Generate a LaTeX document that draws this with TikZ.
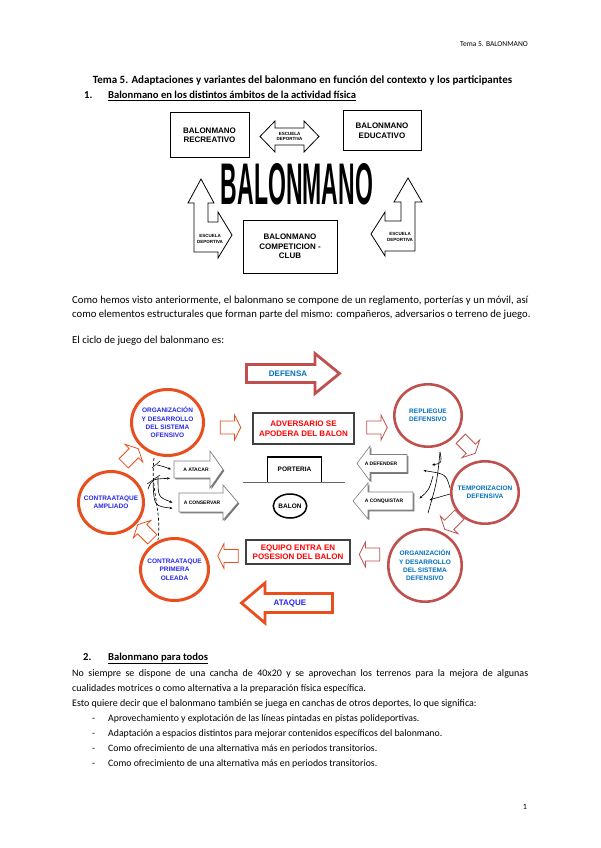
\documentclass[tikz,border=0pt]{standalone}
\usepackage{fontspec}
\usepackage{graphicx}
\setmainfont{Carlito}
\newfontfamily\arial{Liberation Sans}
\usetikzlibrary{arrows.meta,shapes.geometric}
\definecolor{ofred}{RGB}{232,78,30}
\definecolor{defred}{RGB}{192,80,77}
\definecolor{ofblue}{RGB}{40,40,235}
\definecolor{defblue}{RGB}{0,112,192}
\tikzset{
  body/.style={anchor=base west, inner sep=0pt, font=\fontsize{10.7}{13}\selectfont},
  bodys/.style={anchor=base west, inner sep=0pt, font=\fontsize{10}{12}\selectfont},
  bodyt/.style={anchor=base west, inner sep=0pt, font=\fontsize{9.8}{12}\selectfont},
  bodyb/.style={anchor=base west, inner sep=0pt, font=\bfseries\fontsize{10.6}{13}\selectfont},
  lbl/.style={font=\arial\bfseries\fontsize{8}{9.5}\selectfont, align=center, inner sep=0pt},
  esc/.style={font=\arial\bfseries\fontsize{4.5}{5.5}\selectfont, align=center, inner sep=0pt},
  ctxt/.style={font=\arial\bfseries\fontsize{6.5}{8.3}\selectfont, align=center, inner sep=0pt},
  gtxt/.style={font=\arial\bfseries\fontsize{5}{6}\selectfont, inner sep=0pt},
  boxone/.style={draw, line width=1pt, lbl},
  ofcirc/.style={ellipse, draw=ofred, line width=3pt, inner sep=0pt},
  defcirc/.style={ellipse, draw=defred, line width=2.6pt, inner sep=0pt},
  cbox/.style={draw=black!75, line width=1.1pt, lbl, text=red},
  blockarr/.style={draw, line width=0.8pt, fill=white},
  curv/.style={line width=0.6pt, -{Stealth[length=3pt,width=2.5pt]}},
}
\newcommand\smallarr[4]{%
  \begin{scope}[shift={(#1,#2)}, rotate=#3]
    \draw[#4, line width=0.8pt, fill=white] (-10.3,-6.5) -- (4,-6.5) -- (4,-12.5) -- (10.3,0) -- (4,12.5) -- (4,6.5) -- (-10.3,6.5) -- cycle;
  \end{scope}}
\newcommand\grayarr[1]{%
  \fill[black!55, shift={(1.3,1.3)}] #1;
  \draw[black!50, line width=0.6pt, fill=white] #1;}
\begin{document}
\begin{tikzpicture}[x=1pt,y=-1pt]
\useasboundingbox[fill=white] (0,0) rectangle (600,848);

% header
\node[font=\fontsize{7.5}{9}\selectfont, anchor=base east, inner sep=0pt] (hdr) at (528,46.5) {Tema 5. BALONMANO};
\node[font=\bfseries\fontsize{11}{13}\selectfont, anchor=base, inner sep=0pt] (title) at (302.5,84) {Tema 5. Adaptaciones y variantes del balonmano en función del contexto y los participantes};
\node[bodyb] (h1n) at (84,99) {1.};
\node[bodyb] (h1) at (108,99) {\underline{Balonmano en los distintos ámbitos de la actividad física}};

% first diagram
\node[boxone, minimum width=79pt, minimum height=44pt] (recr) at (209.5,135) {BALONMANO\\RECREATIVO};
\node[boxone, minimum width=78pt, minimum height=39pt] (educ) at (382,130.5) {BALONMANO\\EDUCATIVO};
\node[boxone, minimum width=94pt, minimum height=53pt] (comp) at (290,246.5) {BALONMANO\\COMPETICION -\\CLUB};
\draw[blockarr] (260,136.5) -- (275,121) -- (275,128) -- (304,128) -- (304,121) -- (319,136.5) -- (304,152) -- (304,145) -- (275,145) -- (275,152) -- cycle;
\node[esc] (esc1) at (289.5,136.5) {ESCUELA\\DEPORTIVA};
\draw[blockarr] (201,179) -- (214,203) -- (208,203) -- (208,222) -- (218,222) -- (218,212) -- (232,235) -- (218,258) -- (218,252) -- (194,252) -- (194,203) -- (188,203) -- cycle;
\node[esc] (esc2) at (210,239) {ESCUELA\\DEPORTIVA};
\draw[blockarr] (408,178) -- (422,202) -- (415,202) -- (415,251) -- (385,251) -- (385,256) -- (371,234) -- (385,212) -- (385,221) -- (401,221) -- (401,202) -- (394,202) -- cycle;
\node[esc] (esc3) at (400,237) {ESCUELA\\DEPORTIVA};
\node[inner sep=0pt] (big) at (297,184) {\resizebox{152pt}{41pt}{\arial\bfseries BALONMANO}};

% paragraph
\node[body] (p1) at (72,303) {\makebox[456pt][s]{Como hemos visto anteriormente, el balonmano se compone de un reglamento, porterías y un móvil, así}};
\node[body] (p2) at (72,317.5) {como elementos estructurales que forman parte del mismo: compañeros, adversarios o terreno de juego.};
\node[body] (p3) at (72,343) {El ciclo de juego del balonmano es:};

% cycle diagram
\draw[defred, line width=2.8pt, fill=white] (246.5,364.5) -- (315,364.5) -- (315,353.5) -- (339.5,373.5) -- (315,393.5) -- (315,382.5) -- (246.5,382.5) -- cycle;
\node[lbl, text=defblue] (defensa) at (288,374) {DEFENSA};
\draw[ofred, line width=2.8pt, fill=white] (332.5,593.5) -- (265,593.5) -- (265,583) -- (241.5,603) -- (265,623) -- (265,612.5) -- (332.5,612.5) -- cycle;
\node[lbl, text=ofblue] (ataque) at (290,603.5) {ATAQUE};

\node[ofcirc, minimum width=72pt, minimum height=66pt] (orgof) at (167.5,422.5) {};
\node[ctxt, text=ofblue] (orgoft) at (orgof) {ORGANIZACIÓN\\Y DESARROLLO\\DEL SISTEMA\\OFENSIVO};
\node[defcirc, minimum width=67.4pt, minimum height=62.4pt] (repl) at (428,415.5) {};
\node[ctxt, text=defblue] (replt) at (repl) {REPLIEGUE\\DEFENSIVO};
\node[defcirc, minimum width=67.4pt, minimum height=62.4pt] (temp) at (485,492.5) {};
\node[ctxt, text=defblue] (tempt) at (temp) {TEMPORIZACION\\DEFENSIVA};
\node[defcirc, minimum width=73.4pt, minimum height=72.4pt] (orgdef) at (425,565.5) {};
\node[ctxt, text=defblue] (orgdeft) at (orgdef) {ORGANIZACIÓN\\Y DESARROLLO\\DEL SISTEMA\\DEFENSIVO};
\node[ofcirc, minimum width=68pt, minimum height=62pt] (prim) at (174.5,569.5) {};
\node[ctxt, text=ofblue] (primt) at (prim) {CONTRAATAQUE\\PRIMERA\\OLEADA};
\node[ofcirc, minimum width=65pt, minimum height=62pt] (ampl) at (111,502.5) {};
\node[ctxt, text=ofblue] (amplt) at (ampl) {CONTRAATAQUE\\AMPLIADO};

\node[cbox, minimum width=101pt, minimum height=31pt] (adv) at (303.5,428.5) {ADVERSARIO SE\\APODERA DEL BALON};
\node[cbox, minimum width=104pt, minimum height=24pt] (equipo) at (298,552) {EQUIPO ENTRA EN\\POSESION DEL BALON};

\smallarr{230.5}{427.5}{0}{ofred}
\smallarr{377}{427.5}{0}{defred}
\smallarr{468}{446}{-45}{defred}
\smallarr{452}{522}{-135}{defred}
\smallarr{369.5}{554.5}{180}{defred}
\smallarr{228}{556}{180}{ofred}
\smallarr{145}{532}{135}{ofred}
\smallarr{131}{456}{45}{ofred}

% porteria and balon
\node[inner sep=0pt, minimum width=53pt, minimum height=25pt, font=\arial\bfseries\fontsize{6.5}{8}\selectfont] (port) at (294.5,469.5) {PORTERIA};
\draw[line width=0.9pt] (port.south west) -- (port.north west);
\draw[line width=0.9pt] (port.south east) -- (port.north east);
\draw[line width=2pt] ([xshift=-0.45pt]port.north west) -- ([xshift=0.45pt]port.north east);
\coordinate (g1) at (243,482);
\coordinate (g2) at (345,482);
\draw[black!60, line width=1pt] (g1) -- (g2);
\node[ellipse, draw, line width=1.5pt, minimum width=33.5pt, minimum height=24pt, inner sep=0pt] (balon) at (290,506) {};
\node[font=\arial\bfseries\fontsize{6.5}{8}\selectfont, inner sep=0pt] (balont) at (balon) {BALON};

% gray arrows
\grayarr{(174,461) -- (210,461) -- (210,451) -- (223,469.5) -- (210,488) -- (210,478) -- (174,478) -- cycle}
\node[gtxt] (atacar) at (196,469.5) {A ATACAR};
\grayarr{(179,493) -- (223,493) -- (223,485) -- (238,502.5) -- (223,520) -- (223,512) -- (179,512) -- cycle}
\node[gtxt] (conservar) at (202,502.5) {A CONSERVAR};
\grayarr{(407,454.5) -- (370,454.5) -- (370,446) -- (357,463.5) -- (370,481) -- (370,472.5) -- (407,472.5) -- cycle}
\node[gtxt] (defender) at (381,463.5) {A DEFENDER};
\grayarr{(413,492) -- (368,492) -- (368,483) -- (353,501) -- (368,519) -- (368,510) -- (413,510) -- cycle}
\node[gtxt] (conquistar) at (384,501) {A CONQUISTAR};

% left curves
\coordinate (la) at (154,458);
\coordinate (lb) at (158,540);
\draw[line width=0.7pt, densely dashed] (la) .. controls (150,490) and (162,510) .. (lb);
\coordinate (l1s) at (157,465);
\coordinate (l1e) at (171,469.3);
\draw[curv] (l1s) .. controls (162,466) .. (l1e);
\coordinate (l2s) at (148,489);
\coordinate (l2e) at (170,478.3);
\draw[curv] (l2s) .. controls (152,479) .. (l2e);
\coordinate (l3s) at (158,477);
\coordinate (l3e) at (172.5,502.5);
\draw[curv] (l3s) .. controls (158,497) .. (l3e);
\coordinate (l4s) at (153,481);
\coordinate (l4e) at (172.5,508.3);
\draw[curv] (l4s) .. controls (154,506) .. (l4e);
\coordinate (lt1) at (152,468);
\coordinate (lt2) at (160,461);
\draw[line width=0.5pt] (lt1) -- (lt2);
\coordinate (lt3) at (147,484);
\coordinate (lt4) at (160,475);
\draw[line width=0.5pt] (lt3) -- (lt4);

% right curves
\coordinate (ra) at (440,452);
\coordinate (rb) at (428,513);
\draw[line width=0.6pt] (ra) .. controls (437,482) .. (rb);
\coordinate (r1e) at (432,465);
\draw[curv] (ra) .. controls (442,463) .. (r1e);
\coordinate (r2s) at (450,488);
\coordinate (r2e) at (423.5,470.5);
\draw[curv] (r2s) .. controls (446,474) .. (r2e);
\coordinate (r3s) at (433,476);
\coordinate (r3e) at (419.5,498.5);
\draw[curv] (r3s) .. controls (429,490) .. (r3e);
\coordinate (r4s) at (450,494);
\coordinate (r4e) at (429.5,500);
\draw[curv] (r4s) .. controls (440,496) .. (r4e);

% section 2
\node[bodyb] (h2n) at (83,660.5) {2.};
\node[bodyb] (h2) at (108,660.5) {\underline{Balonmano para todos}};
\node[bodys] (q1) at (72,676) {\makebox[456pt][s]{No siempre se dispone de una cancha de 40x20 y se aprovechan los terrenos para la mejora de algunas}};
\node[bodys] (q2) at (72,691) {cualidades motrices o como alternativa a la preparación física específica.};
\node[bodys] (q3) at (72,706) {Esto quiere decir que el balonmano también se juega en canchas de otros deportes, lo que significa:};
\node[bodyt] (b1d) at (92,721) {-};
\node[bodyt] (b1) at (108,721) {Aprovechamiento y explotación de las líneas pintadas en pistas polideportivas.};
\node[bodyt] (b2d) at (92,736) {-};
\node[bodyt] (b2) at (108,736) {Adaptación a espacios distintos para mejorar contenidos específicos del balonmano.};
\node[bodyt] (b3d) at (92,751) {-};
\node[bodyt] (b3) at (108,751) {Como ofrecimiento de una alternativa más en periodos transitorios.};
\node[bodyt] (b4d) at (92,766) {-};
\node[bodyt] (b4) at (108,766) {Como ofrecimiento de una alternativa más en periodos transitorios.};

\node[font=\fontsize{8}{9}\selectfont, anchor=base east, inner sep=0pt] (pg) at (527,809) {1};
\end{tikzpicture}
\end{document}
